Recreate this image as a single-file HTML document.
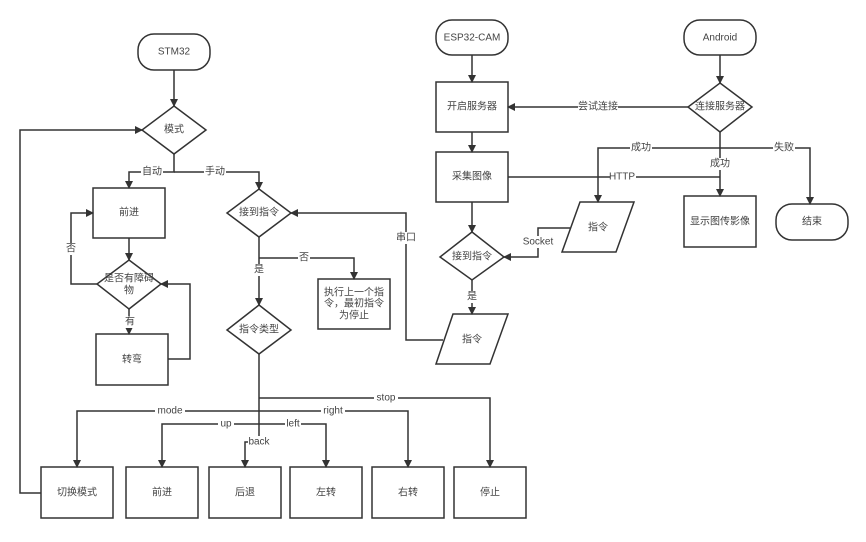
<!DOCTYPE html>
<html><head><meta charset="utf-8"><style>
body{margin:0;background:#fff}
svg text{font-family:"Liberation Sans","Noto Sans CJK SC",sans-serif;font-size:10px;fill:#444;text-anchor:middle;dominant-baseline:middle}
</style></head><body>
<svg width="866" height="537" viewBox="0 0 866 537" xmlns="http://www.w3.org/2000/svg">
<defs><marker id="a" markerWidth="8" markerHeight="8" refX="7" refY="4" orient="auto" markerUnits="userSpaceOnUse"><path d="M0,0L8,4L0,8z" fill="#333"/></marker></defs>
<g fill="none" stroke="#333" stroke-width="1.5">
<!-- shapes -->
<rect x="138" y="34" width="72" height="36" rx="16" fill="#fff"/>
<path d="M174,106L206,130L174,154L142,130Z" fill="#fff"/>
<rect x="93" y="188" width="72" height="50" fill="#fff"/>
<path d="M259,189L291,213L259,237L227,213Z" fill="#fff"/>
<path d="M129,260L161,284L129,309L97,284Z" fill="#fff"/>
<rect x="96" y="334" width="72" height="51" fill="#fff"/>
<path d="M259,305L291,330L259,354L227,330Z" fill="#fff"/>
<rect x="318" y="279" width="72" height="50" fill="#fff"/>
<rect x="41" y="467" width="72" height="51"/>
<rect x="126" y="467" width="72" height="51"/>
<rect x="209" y="467" width="72" height="51"/>
<rect x="290" y="467" width="72" height="51"/>
<rect x="372" y="467" width="72" height="51"/>
<rect x="454" y="467" width="72" height="51"/>
<rect x="436" y="20" width="72" height="35" rx="16"/>
<rect x="436" y="82" width="72" height="50"/>
<rect x="436" y="152" width="72" height="50"/>
<path d="M472,232L504,257L472,280L440,257Z"/>
<path d="M453,314L508,314L490,364L436,364Z"/>
<rect x="684" y="20" width="72" height="35" rx="16"/>
<path d="M720,83L752,107L720,132L688,107Z"/>
<path d="M580,202L634,202L616,252L562,252Z"/>
<rect x="684" y="196" width="72" height="51"/>
<rect x="776" y="204" width="72" height="36" rx="16"/>
<!-- connectors -->
<path d="M174,70V106" marker-end="url(#a)"/>
<path d="M41,493H20V130H142" marker-end="url(#a)"/>
<path d="M174,154V172H129V188" marker-end="url(#a)"/>
<path d="M174,172H259V189" marker-end="url(#a)"/>
<path d="M129,238V260" marker-end="url(#a)"/>
<path d="M97,284H71V213H93" marker-end="url(#a)"/>
<path d="M129,309V334" marker-end="url(#a)"/>
<path d="M168,359H190V284H161" marker-end="url(#a)"/>
<path d="M259,237V305" marker-end="url(#a)"/>
<path d="M259,258H354V279" marker-end="url(#a)"/>
<path d="M443,340H406V213H291" marker-end="url(#a)"/>
<path d="M259,354V442H245V467" marker-end="url(#a)"/>
<path d="M259,398H490V467" marker-end="url(#a)"/>
<path d="M259,411H77V467" marker-end="url(#a)"/>
<path d="M259,411H408V467" marker-end="url(#a)"/>
<path d="M259,424H162V467" marker-end="url(#a)"/>
<path d="M259,424H326V467" marker-end="url(#a)"/>
<path d="M472,55V82" marker-end="url(#a)"/>
<path d="M472,132V152" marker-end="url(#a)"/>
<path d="M472,202V232" marker-end="url(#a)"/>
<path d="M472,280V314" marker-end="url(#a)"/>
<path d="M720,55V83" marker-end="url(#a)"/>
<path d="M688,107H508" marker-end="url(#a)"/>
<path d="M720,132V196" marker-end="url(#a)"/>
<path d="M720,148H598V202" marker-end="url(#a)"/>
<path d="M720,148H810V204" marker-end="url(#a)"/>
<path d="M508,177H720"/>
<path d="M570,228H538V257H504" marker-end="url(#a)"/>
</g>
<g>
<rect x="141" y="166" width="22" height="12" fill="#fff"/><text x="152" y="172">自动</text>
<rect x="204" y="166" width="22" height="12" fill="#fff"/><text x="215" y="172">手动</text>
<rect x="65" y="243" width="12" height="12" fill="#fff"/><text x="71" y="249">否</text>
<rect x="124" y="316" width="12" height="12" fill="#fff"/><text x="130" y="322">有</text>
<rect x="253" y="264" width="12" height="12" fill="#fff"/><text x="259" y="270">是</text>
<rect x="298" y="252" width="12" height="12" fill="#fff"/><text x="304" y="258">否</text>
<rect x="395" y="232" width="22" height="12" fill="#fff"/><text x="406" y="238">串口</text>
<rect x="374" y="392" width="24" height="12" fill="#fff"/><text x="386" y="398">stop</text>
<rect x="155" y="405" width="30" height="12" fill="#fff"/><text x="170" y="411">mode</text>
<rect x="321" y="405" width="24" height="12" fill="#fff"/><text x="333" y="411">right</text>
<rect x="218" y="418" width="16" height="12" fill="#fff"/><text x="226" y="424">up</text>
<rect x="285" y="418" width="16" height="12" fill="#fff"/><text x="293" y="424">left</text>
<rect x="248" y="436" width="24" height="12" fill="#fff"/><text x="259" y="442">back</text>
<rect x="578" y="101" width="40" height="12" fill="#fff"/><text x="598" y="107">尝试连接</text>
<rect x="630" y="142" width="22" height="12" fill="#fff"/><text x="641" y="148">成功</text>
<rect x="709" y="158" width="22" height="12" fill="#fff"/><text x="720" y="164">成功</text>
<rect x="773" y="142" width="22" height="12" fill="#fff"/><text x="784" y="148">失败</text>
<rect x="610" y="171" width="26" height="12" fill="#fff"/><text x="622" y="177">HTTP</text>
<rect x="521" y="236" width="34" height="12" fill="#fff"/><text x="538" y="242">Socket</text>
<rect x="466" y="291" width="12" height="12" fill="#fff"/><text x="472" y="297">是</text>
</g>
<g>
<text x="174" y="52">STM32</text>
<text x="174" y="130">模式</text>
<text x="129" y="213">前进</text>
<text x="259" y="213">接到指令</text>
<text x="129" y="279">是否有障碍</text><text x="129" y="291">物</text>
<text x="132" y="360">转弯</text>
<text x="259" y="330">指令类型</text>
<text x="354" y="293">执行上一个指</text><text x="354" y="304">令，最初指令</text><text x="354" y="316">为停止</text>
<text x="77" y="493">切换模式</text>
<text x="162" y="493">前进</text>
<text x="245" y="493">后退</text>
<text x="326" y="493">左转</text>
<text x="408" y="493">右转</text>
<text x="490" y="493">停止</text>
<text x="472" y="38">ESP32-CAM</text>
<text x="472" y="107">开启服务器</text>
<text x="472" y="177">采集图像</text>
<text x="472" y="257">接到指令</text>
<text x="472" y="340">指令</text>
<text x="720" y="38">Android</text>
<text x="720" y="107">连接服务器</text>
<text x="598" y="228">指令</text>
<text x="720" y="222">显示图传影像</text>
<text x="812" y="222">结束</text>
</g>
</svg>
</body></html>
